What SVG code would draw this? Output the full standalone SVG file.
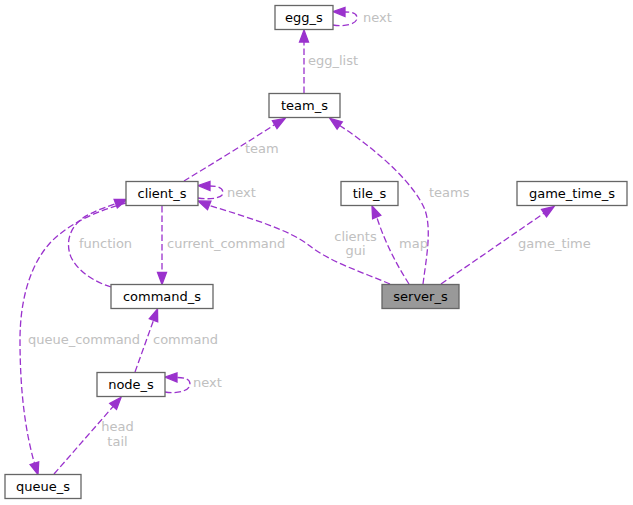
<svg xmlns="http://www.w3.org/2000/svg" width="633" height="505" viewBox="0 0 633 505">
<style>
.node rect{fill:#ffffff;stroke:#666666;stroke-width:1.3}
.node text{font-family:"DejaVu Sans",sans-serif;font-size:13px;fill:#000000;text-anchor:middle}
.edge path{fill:none;stroke:#9a32cd;stroke-width:1.3;stroke-dasharray:6.5,3}
.edge polygon{fill:#9a32cd;stroke:#9a32cd;stroke-width:1.3}
.lbl{font-family:"DejaVu Sans",sans-serif;font-size:13px;fill:#c0c0c0}
</style>
<rect width="633" height="505" fill="#ffffff"/>
<g id="edges">
  <g class="edge" id="e_egg_next">
    <path d="M333,25 C345,27 357,24 357,18 C357,13 352,12 345,12"/>
    <polygon points="333,11.5 345,7.5 345,16.5"/>
    <text class="lbl" x="363" y="21.5">next</text>
  </g>
  <g class="edge" id="e_egg_list">
    <path d="M304,93 L304,42"/>
    <polygon points="304,30 308.5,42 299.5,42"/>
    <text class="lbl" x="308" y="65">egg_list</text>
  </g>
  <g class="edge" id="e_team">
    <path d="M184,181 C210,165 245,144 274.7,124.6"/>
    <polygon points="285,118.5 277,128.5 272.4,120.7"/>
    <text class="lbl" x="245" y="153">team</text>
  </g>
  <g class="edge" id="e_teams">
    <path d="M423,284 C426,260 432,230 425,210 C415,185 380,152 339.7,125.5"/>
    <polygon points="330,118.5 342.3,121.9 337.1,129.2"/>
    <text class="lbl" x="429" y="197">teams</text>
  </g>
  <g class="edge" id="e_client_next">
    <path d="M198,198 C210,200 223,198 223,193 C223,188 218,186 210,186"/>
    <polygon points="198,185.5 210,181.5 210,190.5"/>
    <text class="lbl" x="227" y="197">next</text>
  </g>
  <g class="edge" id="e_clients_gui">
    <path d="M390,284 C362,272 330,262 310,246 C290,230 250,218 209.2,205.4"/>
    <polygon points="198,201 210.9,201.2 207.5,209.6"/>
    <text class="lbl" x="355.5" y="241" text-anchor="middle">clients</text>
    <text class="lbl" x="355.5" y="255" text-anchor="middle">gui</text>
  </g>
  <g class="edge" id="e_function">
    <path d="M111,287 C95,282 78,272 71,257 C64,240 72,222 90,214 C97,210 106,207 115.7,203.7"/>
    <polygon points="127,199.5 117.3,207.9 114.1,199.5"/>
    <text class="lbl" x="79" y="248">function</text>
  </g>
  <g class="edge" id="e_queue_command">
    <path d="M126,203 C100,210 70,222 50,243 C30,265 20,300 20,340 C20,390 25,430 34.4,463.1"/>
    <polygon points="38,474.5 38.7,461.8 30.1,464.5"/>
    <text class="lbl" x="28" y="344">queue_command</text>
  </g>
  <g class="edge" id="e_current_command">
    <path d="M162,206 L162,272.5"/>
    <polygon points="162,284.5 166.5,272.5 157.5,272.5"/>
    <text class="lbl" x="167" y="248">current_command</text>
  </g>
  <g class="edge" id="e_map">
    <path d="M409,284 C400,270 386,246 376.7,217"/>
    <polygon points="372,206 380.8,215.3 372.6,218.8"/>
    <text class="lbl" x="399" y="248">map</text>
  </g>
  <g class="edge" id="e_game_time">
    <path d="M441,284 L544,213.2"/>
    <polygon points="554,206.5 546.5,216.9 541.5,209.5"/>
    <text class="lbl" x="518" y="248">game_time</text>
  </g>
  <g class="edge" id="e_command">
    <path d="M135,372 L153.5,320.3"/>
    <polygon points="157.5,309 157.7,321.8 149.3,318.8"/>
    <text class="lbl" x="153" y="344">command</text>
  </g>
  <g class="edge" id="e_node_next">
    <path d="M165,392 C177,394 190,391 190,384 C190,379 185,377.5 177,377.5"/>
    <polygon points="165,377 177,373 177,382"/>
    <text class="lbl" x="193" y="387">next</text>
  </g>
  <g class="edge" id="e_head_tail">
    <path d="M54,474 L113.1,406.5"/>
    <polygon points="121,397.5 116.5,409.5 109.7,403.5"/>
    <text class="lbl" x="117.5" y="431" text-anchor="middle">head</text>
    <text class="lbl" x="117.5" y="446" text-anchor="middle">tail</text>
  </g>
</g>
<g class="node" id="egg_s"><rect x="275" y="5.5" width="58" height="24"/><text x="304" y="22">egg_s</text></g>
<g class="node" id="team_s"><rect x="269" y="93.5" width="71" height="24"/><text x="304.5" y="110">team_s</text></g>
<g class="node" id="client_s"><rect x="126" y="181.5" width="72" height="24"/><text x="162" y="198">client_s</text></g>
<g class="node" id="tile_s"><rect x="341" y="181.5" width="57" height="24"/><text x="369.5" y="198">tile_s</text></g>
<g class="node" id="game_time_s"><rect x="517" y="181.5" width="110" height="24"/><text x="572" y="198">game_time_s</text></g>
<g class="node" id="command_s"><rect x="111" y="284.5" width="102" height="24"/><text x="162" y="301">command_s</text></g>
<g class="node" id="server_s"><rect x="382" y="284.5" width="77" height="24" style="fill:#999999"/><text x="420.5" y="301">server_s</text></g>
<g class="node" id="node_s"><rect x="97" y="372.5" width="68" height="24"/><text x="131" y="389">node_s</text></g>
<g class="node" id="queue_s"><rect x="5" y="474.5" width="76" height="24"/><text x="43" y="491">queue_s</text></g>
</svg>
